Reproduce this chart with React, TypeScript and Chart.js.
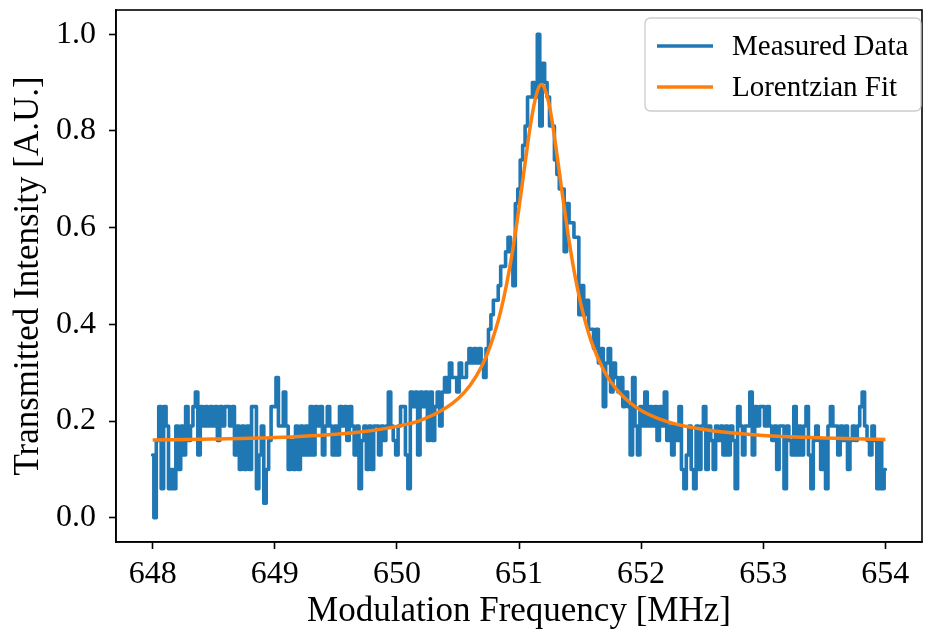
import React, { useEffect, useRef } from "react";
import { Chart, registerables } from "chart.js";

Chart.register(...registerables);

// Sampling grid of the measured trace (MHz)
const FREQ_START = 648;
const FREQ_STEP = 0.02;

// Measured transmitted intensity (A.U.), one value per sample
const MEASURED = [
  0.13, 0, 0.16, 0.23, 0.06, 0.23, 0.19, 0.06, 0.1, 0.06,
  0.19, 0.1, 0.19, 0.13, 0.23, 0.16, 0.19, 0.23, 0.26, 0.13,
  0.23, 0.19, 0.23, 0.19, 0.23, 0.19, 0.23, 0.16, 0.23, 0.19,
  0.23, 0.23, 0.19, 0.23, 0.13, 0.19, 0.1, 0.19, 0.1, 0.19,
  0.1, 0.23, 0.23, 0.06, 0.13, 0.19, 0.03, 0.1, 0.16, 0.23,
  0.23, 0.29, 0.19, 0.19, 0.26, 0.19, 0.1, 0.16, 0.1, 0.19,
  0.1, 0.19, 0.13, 0.19, 0.13, 0.23, 0.13, 0.23, 0.19, 0.23,
  0.13, 0.19, 0.23, 0.19, 0.13, 0.19, 0.13, 0.23, 0.19, 0.23,
  0.16, 0.23, 0.19, 0.13, 0.19, 0.06, 0.16, 0.19, 0.1, 0.19,
  0.1, 0.19, 0.19, 0.13, 0.19, 0.16, 0.19, 0.26, 0.19, 0.16,
  0.13, 0.19, 0.23, 0.23, 0.13, 0.06, 0.26, 0.23, 0.26, 0.13,
  0.26, 0.23, 0.26, 0.16, 0.26, 0.16, 0.23, 0.26, 0.19, 0.26,
  0.29, 0.26, 0.32, 0.29, 0.29, 0.26, 0.32, 0.29, 0.29, 0.32,
  0.35, 0.32, 0.35, 0.32, 0.35, 0.32, 0.29, 0.35, 0.39, 0.42,
  0.45, 0.45, 0.48, 0.52, 0.52, 0.55, 0.58, 0.55, 0.48, 0.65,
  0.68, 0.74, 0.77, 0.81, 0.87, 0.87, 0.9, 0.87, 1.0, 0.81,
  0.94, 0.9, 0.87, 0.81, 0.81, 0.74, 0.71, 0.68, 0.68, 0.55,
  0.65, 0.61, 0.61, 0.58, 0.58, 0.42, 0.48, 0.42, 0.45, 0.39,
  0.39, 0.35, 0.39, 0.32, 0.35, 0.23, 0.32, 0.35, 0.26, 0.32,
  0.29, 0.26, 0.29, 0.23, 0.26, 0.23, 0.13, 0.29, 0.19, 0.13,
  0.23, 0.19, 0.26, 0.19, 0.23, 0.19, 0.23, 0.16, 0.23, 0.19,
  0.26, 0.16, 0.19, 0.13, 0.19, 0.16, 0.23, 0.1, 0.06, 0.13,
  0.19, 0.1, 0.06, 0.19, 0.1, 0.19, 0.23, 0.1, 0.19, 0.16,
  0.1, 0.19, 0.16, 0.19, 0.13, 0.19, 0.13, 0.19, 0.16, 0.06,
  0.23, 0.19, 0.13, 0.19, 0.19, 0.26, 0.13, 0.23, 0.19, 0.23,
  0.23, 0.19, 0.23, 0.19, 0.16, 0.19, 0.1, 0.19, 0.19, 0.06,
  0.19, 0.16, 0.13, 0.23, 0.13, 0.19, 0.13, 0.19, 0.23, 0.13,
  0.06, 0.16, 0.19, 0.16, 0.1, 0.16, 0.06, 0.19, 0.23, 0.19,
  0.19, 0.13, 0.19, 0.16, 0.19, 0.1, 0.16, 0.19, 0.16, 0.19,
  0.23, 0.26, 0.19, 0.16, 0.13, 0.19, 0.16, 0.06, 0.16, 0.06,
  0.1,
];

// Lorentzian fit curve
const FIT_FREQ = [
  648, 648.5, 649, 649.5, 649.75, 650, 650.2, 650.4, 650.5, 650.6,
  650.7, 650.75, 650.8, 650.85, 650.9, 650.95, 651, 651.05, 651.1, 651.15,
  651.185, 651.2, 651.25, 651.3, 651.35, 651.4, 651.45, 651.5, 651.55, 651.6,
  651.7, 651.8, 651.9, 652, 652.2, 652.5, 653, 653.5, 654,
];
const FIT_VALUES = [
  0.161, 0.163, 0.166, 0.173, 0.179, 0.189, 0.202, 0.227, 0.246, 0.274,
  0.316, 0.345, 0.382, 0.427, 0.485, 0.556, 0.641, 0.734, 0.822, 0.882,
  0.896, 0.893, 0.851, 0.771, 0.678, 0.589, 0.512, 0.449, 0.399, 0.359,
  0.302, 0.265, 0.24, 0.222, 0.2, 0.183, 0.17, 0.165, 0.162,
];

const X_MIN = 647.7;
const X_MAX = 654.3;
const Y_MIN = -0.05;
const Y_MAX = 1.05;

const SERIES_LABELS = ["Measured Data", "Lorentzian Fit"];
const SERIES_COLORS = ["#1f77b4", "#ff7f0e"];
const X_TITLE = "Modulation Frequency [MHz]";
const Y_TITLE = "Transmitted Intensity [A.U.]";

const FONT_FAMILY = "'Liberation Serif', 'DejaVu Serif', serif";

const framePlugin = {
  id: "mplFrame",
  afterDraw(chart: any) {
    const { ctx, chartArea } = chart;
    const { left, top, right, bottom } = chartArea;
    ctx.save();
    ctx.strokeStyle = "#000";
    ctx.lineWidth = 1.6;
    ctx.strokeRect(left, top, right - left, bottom - top);

    const bx = 645, by = 18, bw = 276, bh = 93, r = 6;
    ctx.beginPath();
    ctx.moveTo(bx + r, by);
    ctx.lineTo(bx + bw - r, by);
    ctx.quadraticCurveTo(bx + bw, by, bx + bw, by + r);
    ctx.lineTo(bx + bw, by + bh - r);
    ctx.quadraticCurveTo(bx + bw, by + bh, bx + bw - r, by + bh);
    ctx.lineTo(bx + r, by + bh);
    ctx.quadraticCurveTo(bx, by + bh, bx, by + bh - r);
    ctx.lineTo(bx, by + r);
    ctx.quadraticCurveTo(bx, by, bx + r, by);
    ctx.closePath();
    ctx.fillStyle = "rgba(255,255,255,0.8)";
    ctx.fill();
    ctx.strokeStyle = "#cccccc";
    ctx.lineWidth = 1.3;
    ctx.stroke();

    const rows = [46, 87];
    chart.data.datasets.forEach((ds: any) => {
      const idx = SERIES_LABELS.indexOf(ds.label);
      const y = rows[idx];
      ctx.beginPath();
      ctx.strokeStyle = ds.borderColor;
      ctx.lineWidth = 3.5;
      ctx.lineCap = "butt";
      ctx.moveTo(657, y);
      ctx.lineTo(713, y);
      ctx.stroke();
      ctx.fillStyle = "#000";
      ctx.font = `29px ${FONT_FAMILY}`;
      ctx.textBaseline = "middle";
      ctx.textAlign = "left";
      ctx.fillText(ds.label, 732, y + 1);
    });
    ctx.restore();
  },
};

export default function App() {
  const canvasRef = useRef<HTMLCanvasElement | null>(null);

  useEffect(() => {
    const canvas = canvasRef.current;
    if (!canvas) return;

    const measuredPoints = MEASURED.map((v, i) => ({
      x: FREQ_START + i * FREQ_STEP,
      y: v,
    }));
    const fitPoints = FIT_FREQ.map((f, i) => ({ x: f, y: FIT_VALUES[i] }));

    const tickFont = { family: FONT_FAMILY, size: 32 };
    const titleFont = { family: FONT_FAMILY, size: 35 };

    const chart = new Chart(canvas, {
      type: "line",
      data: {
        datasets: [
          {
            label: SERIES_LABELS[1],
            data: fitPoints,
            borderColor: SERIES_COLORS[1],
            backgroundColor: SERIES_COLORS[1],
            borderWidth: 3.5,
            pointRadius: 0,
            fill: false,
            cubicInterpolationMode: "monotone",
            borderJoinStyle: "round",
            order: 0,
          },
          {
            label: SERIES_LABELS[0],
            data: measuredPoints,
            borderColor: SERIES_COLORS[0],
            backgroundColor: SERIES_COLORS[0],
            borderWidth: 3.6,
            pointRadius: 0,
            fill: false,
            stepped: "middle",
            borderJoinStyle: "round",
            borderCapStyle: "round",
            order: 1,
          },
        ],
      },
      options: {
        animation: false,
        responsive: false,
        devicePixelRatio: 1,
        layout: { padding: { top: 10, right: 4, left: 0, bottom: 0 } },
        plugins: {
          legend: { display: false },
          tooltip: { enabled: false },
        },
        scales: {
          x: {
            type: "linear",
            min: X_MIN,
            max: X_MAX,
            ticks: {
              stepSize: 1,
              includeBounds: false,
              autoSkip: false,
              maxRotation: 0,
              color: "#000",
              font: tickFont,
              padding: 6,
              callback: (v: any) => String(Math.round(Number(v))),
            },
            grid: {
              drawOnChartArea: false,
              drawTicks: true,
              tickLength: 7,
              tickWidth: 1.6,
              tickColor: "#000",
              color: "#000",
            },
            border: { display: true, color: "#000", width: 1.6 },
            title: {
              display: true,
              text: X_TITLE,
              color: "#000",
              font: titleFont,
              padding: { top: 0, bottom: 0 },
            },
            afterFit: (scale: any) => {
              scale.height = 91;
              scale.paddingLeft = 0;
              scale.paddingRight = 0;
            },
          },
          y: {
            type: "linear",
            min: Y_MIN,
            max: Y_MAX,
            ticks: {
              stepSize: 0.2,
              includeBounds: false,
              autoSkip: false,
              color: "#000",
              font: tickFont,
              padding: 13,
              callback: (v: any) => Number(v).toFixed(1),
            },
            grid: {
              drawOnChartArea: false,
              drawTicks: true,
              tickLength: 7,
              tickWidth: 1.6,
              tickColor: "#000",
              color: "#000",
            },
            border: { display: true, color: "#000", width: 1.6 },
            title: {
              display: true,
              text: Y_TITLE,
              color: "#000",
              font: titleFont,
              padding: { top: 8, bottom: 0 },
            },
            afterFit: (scale: any) => {
              scale.width = 116;
              scale.paddingTop = 0;
              scale.paddingBottom = 0;
            },
          },
        },
      },
      plugins: [framePlugin],
    });

    return () => {
      chart.destroy();
    };
  }, []);

  return (
    <div
      style={{
        position: "absolute",
        left: 0,
        top: 0,
        width: 926,
        height: 633,
        background: "#fff",
      }}
    >
      <canvas
        ref={canvasRef}
        width={926}
        height={633}
        style={{ display: "block", width: 926, height: 633 }}
      />
    </div>
  );
}
